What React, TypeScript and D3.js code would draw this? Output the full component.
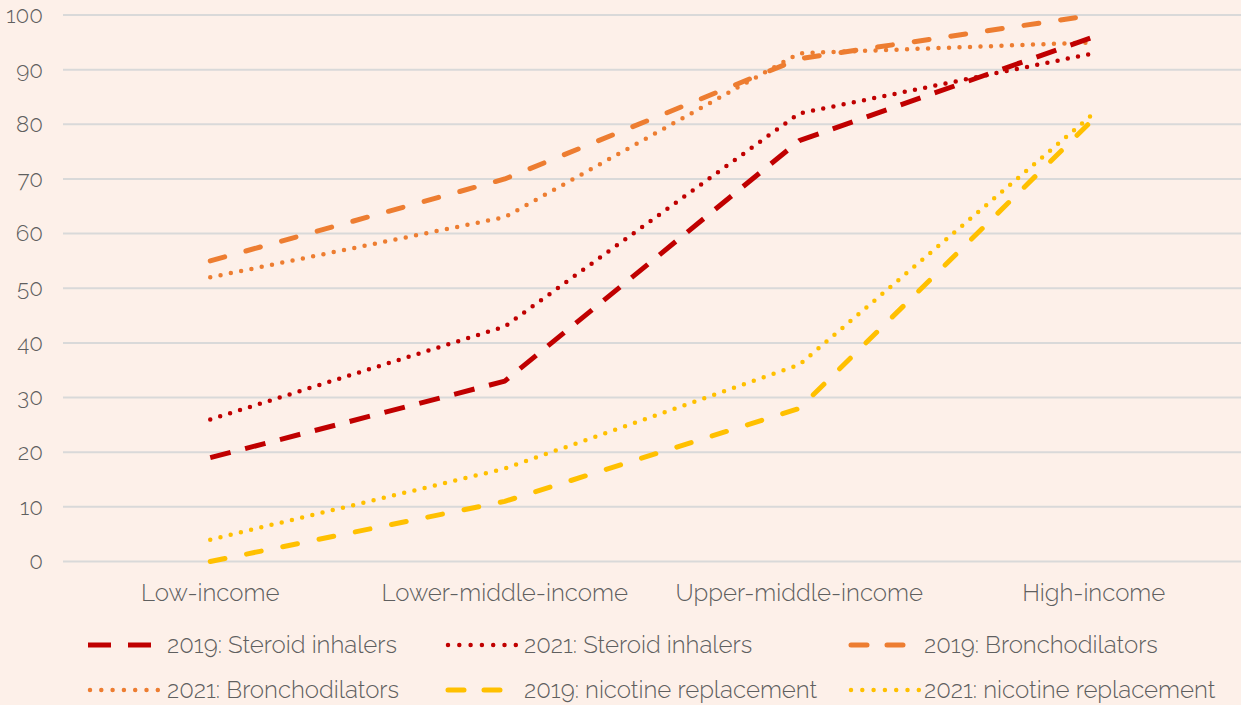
import React, { useEffect, useRef } from "react";
import * as d3 from "d3";

const categories = ["Low-income", "Lower-middle-income", "Upper-middle-income", "High-income"];
const yTicks = [0, 10, 20, 30, 40, 50, 60, 70, 80, 90, 100];

const steroid2019 = [19, 33, 77, 96];
const steroid2021 = [26, 43, 82, 93];
const broncho2019 = [55, 70, 92, 100];
const broncho2021 = [52, 63, 93, 95];
const nicotine2019 = [0, 11, 28, 81];
const nicotine2021 = [4, 17, 36, 82];

const seriesNames = [
  "2019: Steroid inhalers",
  "2021: Steroid inhalers",
  "2019: Bronchodilators",
  "2021: Bronchodilators",
  "2019: nicotine replacement",
  "2021: nicotine replacement",
];

const RED = "#c00000";
const ORANGE = "#ed7d31";
const YELLOW = "#ffc000";

export default function App() {
  const ref = useRef<SVGSVGElement>(null);

  useEffect(() => {
    const width = 1241,
      height = 705;
    const margin = { top: 15, right: 0, bottom: 144, left: 63 };

    const svg = d3.select(ref.current);
    svg.selectAll("*").remove();

    svg.append("rect").attr("width", width).attr("height", height).attr("fill", "#fdf0e9");

    const x = d3
      .scaleBand()
      .domain(categories)
      .range([margin.left, width - margin.right]);
    const y = d3
      .scaleLinear()
      .domain([0, 100])
      .range([height - margin.bottom + 0.5, margin.top]);

    const font = "Raleway, Lato, 'Open Sans', sans-serif";
    const textColor = "#5f5f5f";

    // gridlines + y labels
    const grid = svg.append("g");
    grid
      .selectAll("line")
      .data(yTicks)
      .join("line")
      .attr("x1", margin.left)
      .attr("x2", width)
      .attr("y1", (d) => y(d))
      .attr("y2", (d) => y(d))
      .attr("stroke", "#d9d9d9")
      .attr("stroke-width", 2);
    grid
      .selectAll("text")
      .data(yTicks)
      .join("text")
      .attr("x", 43)
      .attr("y", (d) => y(d))
      .attr("dy", "0.35em")
      .attr("text-anchor", "end")
      .attr("font-family", font)
      .attr("font-weight", 300)
      .attr("font-size", 22.5)
      .attr("fill", textColor)
      .text((d) => d);

    // category labels
    svg
      .append("g")
      .selectAll("text")
      .data(categories)
      .join("text")
      .attr("x", (d) => x(d)! + x.bandwidth() / 2)
      .attr("y", 601)
      .attr("text-anchor", "middle")
      .attr("font-family", font)
      .attr("font-weight", 300)
      .attr("font-size", 24)
      .attr("fill", textColor)
      .text((d) => d);

    const styles = [
      { color: RED, width: 5, dash: "21,15", cap: "butt", legendDash: "23,17" },
      { color: RED, width: 4.5, dash: "0,10.4", cap: "round", legendDash: "0,11.3" },
      { color: ORANGE, width: 5, dash: "15,22", cap: "round", legendDash: "16,20" },
      { color: ORANGE, width: 4.5, dash: "0,10.5", cap: "round", legendDash: "0,11.3" },
      { color: YELLOW, width: 5, dash: "15,22", cap: "round", legendDash: "16,20" },
      { color: YELLOW, width: 4.5, dash: "0,10.5", cap: "round", legendDash: "0,11.3" },
    ];
    const allSeries = [steroid2019, steroid2021, broncho2019, broncho2021, nicotine2019, nicotine2021];

    const line = d3
      .line<number>()
      .x((_, i) => x(categories[i])! + x.bandwidth() / 2)
      .y((d) => y(d));

    // draw order: yellow first, then orange, then red on top
    const order = [4, 5, 2, 3, 0, 1];
    svg
      .append("g")
      .selectAll("path")
      .data(order)
      .join("path")
      .attr("d", (i) => line(allSeries[i]))
      .attr("fill", "none")
      .attr("stroke", (i) => styles[i].color)
      .attr("stroke-width", (i) => styles[i].width)
      .attr("stroke-dasharray", (i) => styles[i].dash)
      .attr("stroke-linecap", (i) => styles[i].cap)
      .attr("stroke-linejoin", "round");

    // legend
    const colX = [88, 446, 849];
    const textX = [167, 524, 924];
    const rowY = [645, 690];
    const legend = svg.append("g");
    seriesNames.forEach((name, i) => {
      const col = i % 3;
      const row = Math.floor(i / 3);
      const s = styles[i];
      const start = s.cap === "round" ? colX[col] + 2 : colX[col];
      legend
        .append("line")
        .attr("x1", start)
        .attr("x2", colX[col] + 70)
        .attr("y1", rowY[row])
        .attr("y2", rowY[row])
        .attr("stroke", s.color)
        .attr("stroke-width", s.width)
        .attr("stroke-dasharray", s.legendDash)
        .attr("stroke-linecap", s.cap);
      legend
        .append("text")
        .attr("x", textX[col])
        .attr("y", rowY[row])
        .attr("dy", "0.35em")
        .attr("font-family", font)
        .attr("font-weight", 300)
        .attr("font-size", 24)
        .attr("fill", textColor)
        .text(name);
    });
  }, []);

  return (
    <svg
      ref={ref}
      width={1241}
      height={705}
      style={{ position: "absolute", left: 0, top: 0, display: "block" }}
    />
  );
}
